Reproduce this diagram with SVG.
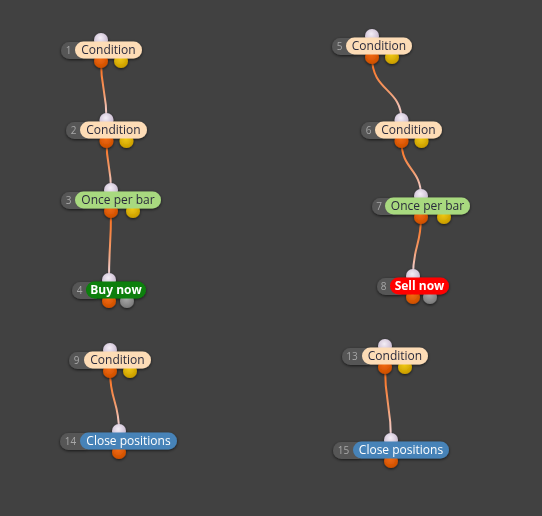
<svg xmlns="http://www.w3.org/2000/svg" width="542" height="516" viewBox="0 0 542 516">
<style>
.num{fill:#565656}
.nt{font-family:"Open Sans","Liberation Sans",sans-serif;font-size:10px;fill:#a8a8a8;text-anchor:middle}
.lt{font-family:"Open Sans","Liberation Sans",sans-serif;font-size:12px;fill:#2a2a3c;text-anchor:middle}
.lw{fill:#ffffff}
.lb{font-weight:bold}
.cond{fill:#fddcb6}
.once{fill:#a8d97f}
.close{fill:#4683b8}
.buy{fill:#0a7f0a}
.sell{fill:#ff0000}
.in{fill:url(#gIn)}
.out{fill:url(#gOut)}
.yel{fill:url(#gYel)}
.gry{fill:url(#gGry)}
.conn{fill:none;stroke:url(#gLine);stroke-width:2}
.node{filter:url(#sh)}
</style>
<defs>
<filter id="sh" x="-20%" y="-40%" width="140%" height="180%">
<feDropShadow dx="0" dy="1" stdDeviation="1.8" flood-color="#000" flood-opacity="0.65"/>
</filter>
<radialGradient id="gIn" cx="0.45" cy="0.35" r="0.65"><stop offset="0" stop-color="#f4eef6"/><stop offset="1" stop-color="#c4b4cc"/></radialGradient>
<radialGradient id="gOut" cx="0.45" cy="0.35" r="0.65"><stop offset="0" stop-color="#f26a10"/><stop offset="1" stop-color="#cc4e00"/></radialGradient>
<radialGradient id="gYel" cx="0.45" cy="0.35" r="0.65"><stop offset="0" stop-color="#f0c810"/><stop offset="1" stop-color="#c99c00"/></radialGradient>
<radialGradient id="gGry" cx="0.45" cy="0.35" r="0.65"><stop offset="0" stop-color="#a8a8a8"/><stop offset="1" stop-color="#7a7a7a"/></radialGradient>
<linearGradient id="gLine" x1="0" y1="0" x2="0" y2="1"><stop offset="0" stop-color="#ff6a10"/><stop offset="0.55" stop-color="#f39a6a"/><stop offset="1" stop-color="#f2e2f2"/></linearGradient>
</defs>
<rect width="542" height="516" fill="#414141"/>
<g id="connectors">
<path class="conn" d="M101 61 C101 90 106.5 90 106.5 120"/>
<path class="conn" d="M106.5 141 C106.5 166 111 166 111 190"/>
<path class="conn" d="M111 211 C111 246 109 246 109 280"/>
<path class="conn" d="M372 57 C372 92 401.5 88 401.5 120"/>
<path class="conn" d="M401.5 141 C401.5 170 421 168 421 196"/>
<path class="conn" d="M421 217 C421 246 413 246 413 276"/>
<path class="conn" d="M110 371 C110 401 119 401 119 431"/>
<path class="conn" d="M385 367 C385 404 391 404 391 440"/>
</g>
<g id="n1" class="node">
<circle class="in" cx="101" cy="40" r="7"/><circle class="out" cx="101" cy="61" r="7"/><circle class="yel" cx="121" cy="61" r="7"/>
<rect class="num" x="61" y="42" width="30" height="17" rx="8.5"/>
<rect class="cond" x="75" y="41.5" width="67" height="17" rx="8.5"/>
<text class="nt" x="68.5" y="53.5">1</text><text class="lt" x="108.5" y="54.2">Condition</text>
</g>
<g id="n2" class="node">
<circle class="in" cx="106.5" cy="120" r="7"/><circle class="out" cx="106.5" cy="141" r="7"/><circle class="yel" cx="126.5" cy="141" r="7"/>
<rect class="num" x="66" y="122" width="30" height="17" rx="8.5"/>
<rect class="cond" x="80" y="121.5" width="67" height="17" rx="8.5"/>
<text class="nt" x="73.5" y="133.5">2</text><text class="lt" x="113.5" y="134.2">Condition</text>
</g>
<g id="n3" class="node">
<circle class="in" cx="111" cy="190" r="7"/><circle class="out" cx="111" cy="211" r="7"/><circle class="yel" cx="133" cy="211" r="7"/>
<rect class="num" x="61" y="192" width="30" height="17" rx="8.5"/>
<rect class="once" x="75" y="191.5" width="86" height="17" rx="8.5"/>
<text class="nt" x="68.5" y="203.5">3</text><text class="lt" x="118" y="204.2">Once per bar</text>
</g>
<g id="n4" class="node">
<circle class="in" cx="109" cy="280" r="7"/><circle class="out" cx="109" cy="301" r="7"/><circle class="gry" cx="127" cy="301" r="7"/>
<rect class="num" x="72" y="282" width="30" height="17" rx="8.5"/>
<rect class="buy" x="86" y="281.5" width="60" height="17" rx="8.5"/>
<text class="nt" x="79.5" y="293.5">4</text><text class="lt lw lb" x="116" y="294.2">Buy now</text>
</g>
<g id="n5" class="node">
<circle class="in" cx="372" cy="36" r="7"/><circle class="out" cx="372" cy="57" r="7"/><circle class="yel" cx="392" cy="57" r="7"/>
<rect class="num" x="332" y="38" width="30" height="17" rx="8.5"/>
<rect class="cond" x="346" y="37.5" width="66" height="17" rx="8.5"/>
<text class="nt" x="339.5" y="49.5">5</text><text class="lt" x="379" y="50.2">Condition</text>
</g>
<g id="n6" class="node">
<circle class="in" cx="401.5" cy="120" r="7"/><circle class="out" cx="401.5" cy="141" r="7"/><circle class="yel" cx="421.5" cy="141" r="7"/>
<rect class="num" x="361" y="122" width="30" height="17" rx="8.5"/>
<rect class="cond" x="375" y="121.5" width="67" height="17" rx="8.5"/>
<text class="nt" x="368.5" y="133.5">6</text><text class="lt" x="408.5" y="134.2">Condition</text>
</g>
<g id="n7" class="node">
<circle class="in" cx="421" cy="196" r="7"/><circle class="out" cx="421" cy="217" r="7"/><circle class="yel" cx="444" cy="217" r="7"/>
<rect class="num" x="372" y="198" width="30" height="17" rx="8.5"/>
<rect class="once" x="385" y="197.5" width="85" height="17" rx="8.5"/>
<text class="nt" x="379" y="209.5">7</text><text class="lt" x="427.5" y="210.2">Once per bar</text>
</g>
<g id="n8" class="node">
<circle class="in" cx="413" cy="276" r="7"/><circle class="out" cx="413" cy="297" r="7"/><circle class="gry" cx="430" cy="297" r="7"/>
<rect class="num" x="377" y="278" width="30" height="17" rx="8.5"/>
<rect class="sell" x="390" y="277.5" width="59" height="17" rx="8.5"/>
<text class="nt" x="383.5" y="289.5">8</text><text class="lt lw lb" x="419.5" y="290.2">Sell now</text>
</g>
<g id="n9" class="node">
<circle class="in" cx="110" cy="350" r="7"/><circle class="out" cx="110" cy="371" r="7"/><circle class="yel" cx="130" cy="371" r="7"/>
<rect class="num" x="69" y="352" width="30" height="17" rx="8.5"/>
<rect class="cond" x="84" y="351.5" width="67" height="17" rx="8.5"/>
<text class="nt" x="76.5" y="363.5">9</text><text class="lt" x="117.5" y="364.2">Condition</text>
</g>
<g id="n13" class="node">
<circle class="in" cx="385" cy="346" r="7"/><circle class="out" cx="385" cy="367" r="7"/><circle class="yel" cx="405" cy="367" r="7"/>
<rect class="num" x="342" y="348" width="34" height="17" rx="8.5"/>
<rect class="cond" x="362" y="347.5" width="66" height="17" rx="8.5"/>
<text class="nt" x="352" y="359.5">13</text><text class="lt" x="395" y="360.2">Condition</text>
</g>
<g id="n14" class="node">
<circle class="in" cx="119" cy="431" r="7"/><circle class="out" cx="119" cy="452" r="7"/>
<rect class="num" x="60" y="433" width="34" height="17" rx="8.5"/>
<rect class="close" x="80" y="432.5" width="97" height="17" rx="8.5"/>
<text class="nt" x="70.5" y="444.5">14</text><text class="lt lw" x="128.5" y="445.2">Close positions</text>
</g>
<g id="n15" class="node">
<circle class="in" cx="391" cy="440" r="7"/><circle class="out" cx="391" cy="461" r="7"/>
<rect class="num" x="333" y="442" width="34" height="17" rx="8.5"/>
<rect class="close" x="353" y="441.5" width="96" height="17" rx="8.5"/>
<text class="nt" x="343.5" y="453.5">15</text><text class="lt lw" x="401" y="454.2">Close positions</text>
</g>
</svg>
